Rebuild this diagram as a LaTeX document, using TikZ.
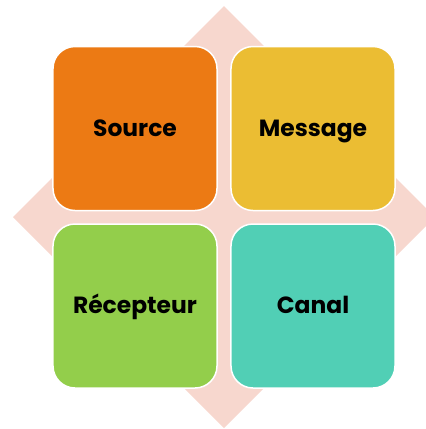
\documentclass[tikz,border=0pt]{standalone}
\usepackage{fontspec}
\setmainfont{Poppins}
\definecolor{diam}{HTML}{F7D7CE}
\definecolor{csrc}{HTML}{EC7A14}
\definecolor{cmsg}{HTML}{EBBD33}
\definecolor{crec}{HTML}{93CE4B}
\definecolor{ccan}{HTML}{51CFB5}
\begin{document}
\begin{tikzpicture}[x=1bp,y=-1bp,
  tile/.style={draw=white,line width=1.5bp,rounded corners=22bp,minimum width=164bp,minimum height=164bp,inner sep=0pt,text height=17bp,text depth=1.5bp,font=\fontsize{23.5}{26}\selectfont\bfseries,text=black}]
\useasboundingbox (0,0) rectangle (426,429);
\fill[diam] (224,6) -- (435,217) -- (224,428) -- (13,217) -- cycle;
\node[tile,fill=csrc] (src) at (135,128.5) {Source};
\node[tile,fill=cmsg] (msg) at (313,128.5) {Message};
\node[tile,fill=crec] (rec) at (135,306) {Récepteur};
\node[tile,fill=ccan] (can) at (313,306) {Canal};
\end{tikzpicture}
\end{document}
